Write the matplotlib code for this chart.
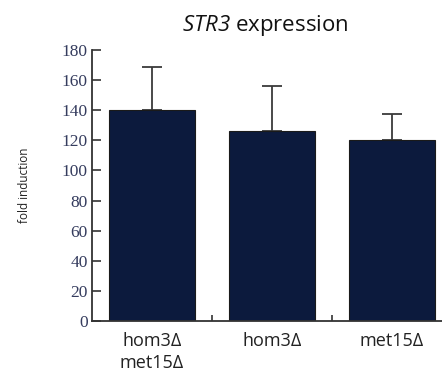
import numpy as np
import matplotlib
matplotlib.use('Agg')
import matplotlib.pyplot as plt

strains = ['hom3\u0394\nmet15\u0394', 'hom3\u0394', 'met15\u0394']
fold = [140, 126.5, 120]
err = [28.5, 29.5, 17.5]

plt.rcParams['mathtext.fontset'] = 'custom'
plt.rcParams['mathtext.it'] = 'Open Sans:italic'
plt.rcParams['mathtext.rm'] = 'Open Sans:italic'

fig = plt.figure(figsize=(4.42, 3.77), dpi=100)
ax = fig.add_axes([92/442, 1-321/377, 1-92/442, (321-50)/377])

x = np.arange(len(strains))
ax.bar(x, fold, width=0.72, color='#0c1a3d', edgecolor='#1a1a1a', linewidth=0.8, zorder=2)
ax.errorbar(x, fold, yerr=[np.zeros(len(err)), err], fmt='none', ecolor='#3a3a3a',
            elinewidth=1.3, capsize=7, capthick=1.3, zorder=1)

ax.set_xlim(-0.5, 2.42)
ax.set_ylim(0, 180)
ax.set_yticks(np.arange(0, 181, 20))
ax.set_yticklabels([str(v) for v in range(0, 181, 20)], family='Liberation Serif',
                   fontsize=12.5, color='#353c5e')
ax.tick_params(axis='y', direction='in', length=6.5, width=1.2, color='#333333', pad=3)

ax.set_xticks(x)
ax.set_xticklabels(strains, family='Open Sans', fontsize=13, color='#222222', linespacing=1.25)
ax.tick_params(axis='x', length=0, pad=8)
ax.set_xticks([0.5, 1.5], minor=True)
ax.tick_params(axis='x', which='minor', direction='in', length=4, width=1.2, color='#333333')

for s in ['top', 'right']:
    ax.spines[s].set_visible(False)
for s in ['left', 'bottom']:
    ax.spines[s].set_linewidth(1.3)
    ax.spines[s].set_color('#333333')

fig.text(25/442, 1-185/377, 'fold induction', rotation=90, ha='center', va='center',
         family='Open Sans', fontsize=8.5, color='#222222')
fig.text(265/442, 1-25/377, r'$STR3$ expression', ha='center', va='center',
         family='Open Sans', fontsize=16, color='#111111')

fig.savefig('out.png', dpi=100)
